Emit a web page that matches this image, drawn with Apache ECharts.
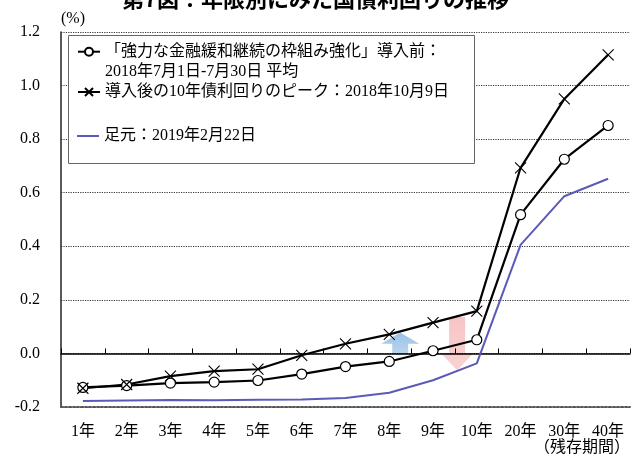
<!DOCTYPE html>
<html>
<head>
<meta charset="utf-8">
<script src="https://cdn.jsdelivr.net/npm/echarts@6/dist/echarts.min.js"></script>
<style>
  html, body { margin: 0; padding: 0; background: #fff; }
  #chart { width: 631px; height: 459px; }
</style>
</head>
<body>
<div id="chart"></div>
<script>
// Remaining maturity (categories)
const terms = ['1年', '2年', '3年', '4年', '5年', '6年', '7年', '8年', '9年', '10年', '20年', '30年', '40年'];

// JGB yields by maturity (%)
const beforeFramework = [-0.127, -0.120, -0.111, -0.107, -0.101, -0.077, -0.049, -0.030, 0.010, 0.051, 0.518, 0.725, 0.851];
const peak10y = [-0.130, -0.116, -0.085, -0.066, -0.059, -0.007, 0.036, 0.071, 0.115, 0.158, 0.693, 0.950, 1.115];
const latest = [-0.178, -0.176, -0.174, -0.175, -0.173, -0.172, -0.166, -0.147, -0.100, -0.037, 0.405, 0.587, 0.652];

// Series names (legend labels)
const seriesNames = [
  '「強力な金融緩和継続の枠組み強化」導入前：\n2018年7月1日-7月30日 平均',
  '導入後の10年債利回りのピーク：2018年10月9日',
  '足元：2019年2月22日'
];

// Y axis range
const yMin = -0.2, yMax = 1.2, yStep = 0.2;

// Direction arrows, anchored in data space (category position, value)
const upArrow = { pos: 7.25, from: 0.0, neck: 0.036, tip: 0.078 };
const downArrow = { pos: 8.55, from: 0.136, neck: 0.0, tip: -0.063 };

const serif = "'Liberation Serif', 'Noto Sans CJK JP', serif";
const crossPath = 'path://M0,0L10,10M10,0L0,10';

const chart = echarts.init(document.getElementById('chart'), null, { renderer: 'canvas' });

const legendText = { fontFamily: serif, fontSize: 16, color: '#000', lineHeight: 20 };

chart.setOption({
  animation: false,
  backgroundColor: '#fff',
  title: {
    text: '第7図：年限別にみた国債利回りの推移',
    left: 'center',
    top: -12,
    padding: 0,
    textStyle: { fontFamily: "'Noto Sans CJK JP'", fontWeight: 'bold', fontSize: 22, color: '#000' }
  },
  grid: { left: 61, right: 1, top: 32, bottom: 52 },
  legend: [
    {
      // leading blank line keeps the icon level with the first text line
      data: [seriesNames[0]], orient: 'vertical', left: 77, top: 21.7, padding: 0,
      itemWidth: 22, itemHeight: 10, selectedMode: false, z: 5,
      formatter: name => '\n' + name,
      textStyle: legendText
    },
    {
      data: [seriesNames[1]], orient: 'vertical', left: 77, top: 82, padding: 0,
      itemWidth: 22, itemHeight: 10, selectedMode: false, z: 5,
      textStyle: legendText
    },
    {
      data: [{ name: seriesNames[2], icon: 'rect' }], orient: 'vertical', left: 77, top: 126, padding: 0,
      itemWidth: 22, itemHeight: 2, selectedMode: false, z: 5,
      textStyle: legendText
    }
  ],
  xAxis: [
    {
      type: 'category',
      data: terms,
      position: 'bottom',
      boundaryGap: true,
      axisLine: { onZero: false, lineStyle: { color: '#555', width: 2, type: 'dotted' } },
      axisTick: { show: false },
      axisLabel: { fontFamily: serif, fontSize: 16, color: '#000', margin: 17 },
      splitLine: { show: false }
    },
    {
      type: 'category',
      data: terms,
      position: 'top',
      boundaryGap: true,
      axisLine: { onZero: true, lineStyle: { color: '#000', width: 1.5 } },
      axisTick: { show: true, length: 5, lineStyle: { color: '#000', width: 1 } },
      axisLabel: { show: false },
      splitLine: { show: false }
    }
  ],
  yAxis: {
    type: 'value',
    min: yMin,
    max: yMax,
    interval: yStep,
    name: '(%)',
    nameLocation: 'end',
    nameGap: 5,
    nameTextStyle: { fontFamily: serif, fontSize: 16, color: '#000', align: 'left' },
    axisLine: { show: true, onZero: false, lineStyle: { color: '#222', width: 1.5 } },
    axisTick: { show: false },
    axisLabel: {
      fontFamily: serif, fontSize: 16, color: '#000', margin: 21,
      formatter: v => v.toFixed(1)
    },
    splitLine: { show: true, lineStyle: { color: '#333', width: 1, type: [1.2, 1.2] } }
  },
  series: [
    {
      name: seriesNames[0],
      type: 'line',
      data: beforeFramework,
      symbol: 'circle',
      symbolSize: 10,
      lineStyle: { color: '#000', width: 2.2 },
      itemStyle: { color: '#fff', borderColor: '#000', borderWidth: 1.2 },
      z: 4
    },
    {
      name: seriesNames[1],
      type: 'line',
      data: peak10y,
      symbol: crossPath,
      symbolSize: 11,
      lineStyle: { color: '#000', width: 2.2 },
      itemStyle: { color: '#000', borderColor: '#000', borderWidth: 1.1 },
      z: 4
    },
    {
      name: seriesNames[2],
      type: 'line',
      data: latest,
      symbol: 'none',
      lineStyle: { color: '#5a5ab8', width: 2 },
      itemStyle: { color: '#5a5ab8' },
      z: 3
    }
  ]
});

// Helpers to place decorations on the chart's own scales
function catX(pos) {
  const i = Math.floor(pos), f = pos - i;
  const a = chart.convertToPixel({ xAxisIndex: 0 }, i);
  const b = chart.convertToPixel({ xAxisIndex: 0 }, i + 1);
  return a + (b - a) * f;
}
function valY(v) {
  return chart.convertToPixel({ yAxisIndex: 0 }, v);
}
function arrowPoints(a, shaftHalf, headHalf) {
  const cx = catX(a.pos);
  const y0 = valY(a.from), yn = valY(a.neck), yt = valY(a.tip);
  return [
    [cx - shaftHalf, y0], [cx - shaftHalf, yn], [cx - headHalf, yn],
    [cx, yt],
    [cx + headHalf, yn], [cx + shaftHalf, yn], [cx + shaftHalf, y0]
  ];
}

chart.setOption({
  graphic: [
    {
      type: 'rect',
      z: 1,
      shape: { x: 68.5, y: 35.5, width: 406, height: 128 },
      style: { fill: '#fff', stroke: '#666', lineWidth: 1 }
    },
    {
      type: 'polygon',
      z: -1,
      shape: { points: arrowPoints(upArrow, 8, 19) },
      style: {
        fill: new echarts.graphic.LinearGradient(0, 0, 0, 1, [
          { offset: 0, color: '#9cc2e8' },
          { offset: 1, color: '#b8d4ef' }
        ])
      }
    },
    {
      type: 'polygon',
      z: -1,
      shape: { points: arrowPoints(downArrow, 8, 16) },
      style: {
        fill: new echarts.graphic.LinearGradient(0, 0, 0, 1, [
          { offset: 0, color: '#f8c4c6' },
          { offset: 1, color: '#fad2d3' }
        ])
      }
    },
    {
      type: 'text',
      right: 1,
      top: 440,
      style: { text: '（残存期間）', font: "16px 'Liberation Serif', 'Noto Sans CJK JP', serif", fill: '#000' }
    }
  ]
});
</script>
</body>
</html>
